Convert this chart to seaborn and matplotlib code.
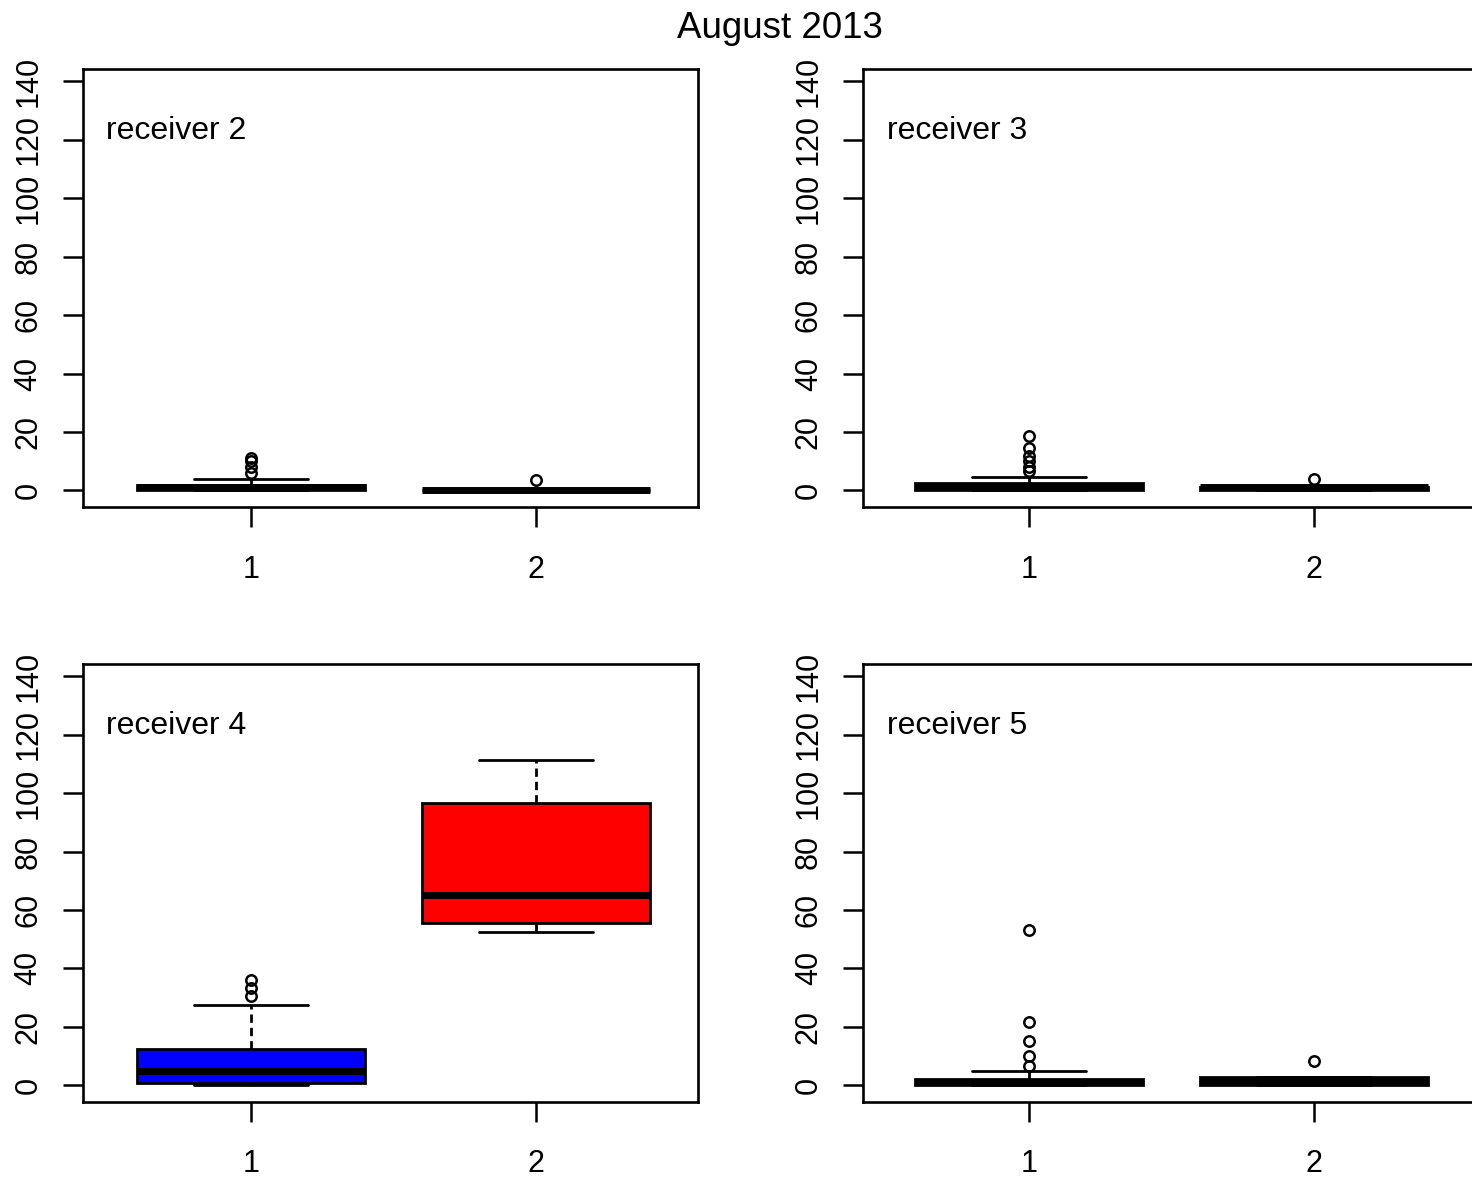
import numpy as np
import pandas as pd
import seaborn as sns
import matplotlib
matplotlib.use("Agg")
import matplotlib.pyplot as plt

# values (4 receivers, 2 groups each)
groups = ["1", "2"]
receivers = ["receiver 2", "receiver 3", "receiver 4", "receiver 5"]
box_colors = ["blue", "red"]
title = "August 2013"
y_ticks = [0, 20, 40, 60, 80, 100, 120, 140]

r2_g1 = [0, 0, 0, 0, 0, 0, 1, 1, 1, 1, 1, 2, 2, 2, 2, 2, 4, 6, 8, 10, 11]
r2_g2 = [0, 0, 0, 0, 0, 3.5]

r3_g1 = [0, 0, 0, 0, 0, 0, 0, 0, 1, 1, 1, 1, 1, 1, 1, 2, 2, 2, 2, 2, 2, 2.5,
         4.7, 6.6, 8, 10, 11.7, 14.6, 18.6]
r3_g2 = [0, 0, 0, 1, 1, 1, 1, 1, 4]

r4_g1 = [0, 0, 0.5, 0.7, 0.7, 1, 2, 3, 4.9, 6, 8, 10, 12.4, 27.5, 30.4, 33.2, 36.2]
r4_g2 = [52.5, 55.6, 65, 96.7, 111.4]

r5_g1 = [0, 0, 0, 0, 0, 0, 0, 1, 1, 1, 1, 1, 1, 2, 2, 2, 2, 2, 2,
         4.9, 6.6, 10, 15, 21.6, 53]
r5_g2 = [0, 0, 0, 1, 1, 2, 2.8, 2.8, 8.3]

panel_data = [(r2_g1, r2_g2), (r3_g1, r3_g2), (r4_g1, r4_g2), (r5_g1, r5_g2)]

sns.set_style("ticks")
plt.rcParams["font.family"] = ["Liberation Sans", "DejaVu Sans"]
plt.rcParams["text.color"] = "black"

fig = plt.figure(figsize=(14.72, 11.79), dpi=100)

# axes rectangles in figure fractions (right column runs past the edge like the source)
w, h = 0.4182, 0.3712
rects = [(0.0562, 0.5702), (0.5865, 0.5702), (0.0562, 0.0656), (0.5865, 0.0656)]
x_left = [-0.59, -0.58, -0.59, -0.58]

for name, (g1, g2), (left, bottom), xl in zip(receivers, panel_data, rects, x_left):
    ax = fig.add_axes([left, bottom, w, h])
    df = pd.DataFrame({"group": [groups[0]] * len(g1) + [groups[1]] * len(g2),
                       "value": g1 + g2})
    # the near-zero boxes render as solid black in the source
    pal = box_colors if name == "receiver 4" else ["black", "black"]
    sns.boxplot(data=df, x="group", y="value", hue="group", order=groups,
                hue_order=groups, palette=pal, saturation=1, width=0.8,
                linecolor="black", linewidth=2, fliersize=7.5, legend=False,
                whis=1.5, ax=ax,
                medianprops=dict(linewidth=5, color="black"),
                whiskerprops=dict(linestyle=(0, (3, 1.8)), linewidth=2),
                capprops=dict(linewidth=2),
                flierprops=dict(marker="o", markerfacecolor="none",
                                markeredgecolor="black", markeredgewidth=1.8))
    ax.set_xlim(xl, xl + 2.16)
    ax.set_ylim(-5.6, 144.2)
    ax.set_yticks(y_ticks)
    ax.set_xlabel("")
    ax.set_ylabel("")
    for sp in ax.spines.values():
        sp.set_visible(True)
        sp.set_linewidth(1.9)
        sp.set_color("black")
    ax.tick_params(axis="both", length=14.4, width=1.8, colors="black",
                   labelsize=22)
    ax.tick_params(axis="y", labelrotation=90, pad=14)
    ax.tick_params(axis="x", pad=20)
    for lab in ax.get_yticklabels():
        lab.set_va("center")
    ax.text(0.038, 0.84, name, transform=ax.transAxes, fontsize=23,
            va="baseline", ha="left")

fig.text(0.53, 0.968, title, ha="center", va="baseline", fontsize=26.5)

fig.savefig("out.png", dpi=100)
